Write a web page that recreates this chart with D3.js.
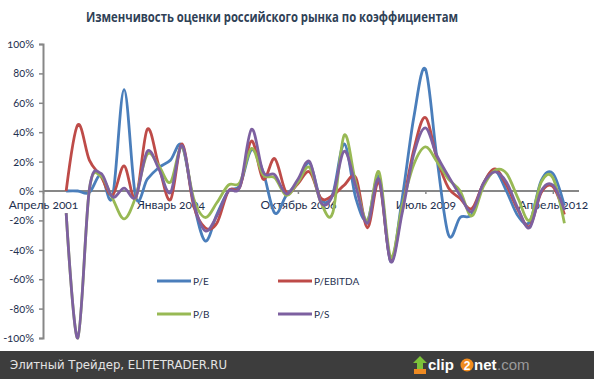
<!DOCTYPE html>
<html>
<head>
<meta charset="utf-8">
<script src="https://cdn.jsdelivr.net/npm/d3@7"></script>
<style>
  html, body { margin: 0; padding: 0; background: #fff; }
  svg { display: block; }
</style>
</head>
<body>
<div id="chart"></div>
<script>
// quarterly categories, April 2001 .. October 2012
const monthNames = ['Январь', 'Апрель', 'Июль', 'Октябрь'];
const categories = [];
for (let q = 1; q < 1 + 47; q++) {
  categories.push(monthNames[q % 4] + ' ' + (2001 + Math.floor(q / 4)));
}
const tickLabels = ['Апрель 2001', 'Январь 2004', 'Октябрь 2006', 'Июль 2009', 'Апрель 2012'];
const yTicks = [100, 80, 60, 40, 20, 0, -20, -40, -60, -80, -100];

// % change (null = no value)
const pe = [null, null,
  0, 0, -1, 11, -4, 69, -4, 8, 16, 21,
  31, -8, -34, -16, 0, 4, 28, 13, -15, -3,
  6, 19, -6, -2, 32, -5, -20, 10, -48, -5,
  50, 83, 22, -30, -18, -16, 5, 14, 0, -17,
  -21, 7, 12, -10, null];
const pebitda = [null, null,
  0, 45, 21, 10, -3, 17, -5, 42, 17, -6,
  32, -10, -25, -22, 0, 3, 34, 8, 22, -1,
  5, 13, -5, -3, 4, 9, -25, 6, -47, -12,
  28, 50, 22, 2, -5, -12, 5, 15, 4, -13,
  -24, -1, 3, -16, null];
const pb = [null, null,
  -15, -100, 1, 10, -5, -19, -4, 25, 17, 6,
  30, -5, -18, -8, 4, 6, 29, 11, 9, -3,
  6, 16, -8, -15, 38, 5, -20, 13, -45, -10,
  18, 30, 20, 8, 0, -17, 3, 14, 12, -5,
  -20, 6, 9, -22, null];
const ps = [null, null,
  -15, -100, 1, 12, -4, 2, -4, 27, 15, -1,
  31, -8, -27, -17, 0, 3, 42, 13, 11, -2,
  8, 20, -8, -3, 27, 3, -22, 8, -48, -15,
  25, 43, 24, 10, -3, -14, 5, 13, 6, -12,
  -25, 0, 4, -13, null];

const seriesNames = ['P/E', 'P/EBITDA', 'P/B', 'P/S'];
const seriesColors = ['#4a7ebb', '#be4b48', '#98b954', '#7d60a0'];
const seriesValues = [pe, pebitda, pb, ps];

const width = 594, height = 379;
const svg = d3.select('#chart').append('svg')
  .attr('width', width)
  .attr('height', height);

svg.append('rect').attr('width', width).attr('height', height).attr('fill', '#fff');

// Title
svg.append('text')
  .attr('x', 86).attr('y', 22)
  .attr('textLength', 372).attr('lengthAdjust', 'spacingAndGlyphs')
  .style('font-family', '"Open Sans", sans-serif')
  .style('font-weight', 'bold')
  .style('font-size', '13.5px')
  .attr('fill', '#2f4156')
  .text('Изменчивость оценки российского рынка по коэффициентам');

// Scales
const x = d3.scalePoint()
  .domain(d3.range(categories.length))
  .range([43, 576]);

const y = d3.scaleLinear()
  .domain([-100, 100])
  .range([338, 44]);

const axisColor = '#878787';
const labelColor = '#1f3150';

// Y axis
const yAxis = svg.append('g')
  .attr('transform', 'translate(43,0)')
  .call(d3.axisLeft(y).tickValues(yTicks).tickSize(4).tickPadding(5)
    .tickFormat(d => d + '%'));
yAxis.select('.domain').attr('stroke', axisColor).attr('stroke-width', 2);
yAxis.selectAll('.tick line').attr('stroke', axisColor).attr('stroke-width', 1.5);
yAxis.selectAll('.tick text')
  .attr('fill', labelColor)
  .style('font-family', 'Lato, sans-serif')
  .style('font-size', '11px')
  .style('font-variant-numeric', 'oldstyle-nums');

// X axis at zero
const tickIdx = tickLabels.map(t => categories.indexOf(t));
const xAxis = svg.append('g')
  .attr('transform', `translate(0,${y(0)})`)
  .call(d3.axisBottom(x).tickValues(tickIdx).tickSize(3).tickPadding(6)
    .tickSizeOuter(0)
    .tickFormat(i => categories[i]));
xAxis.select('.domain').attr('stroke', axisColor).attr('stroke-width', 2.2)
  .attr('d', `M43,0H579`);
xAxis.selectAll('.tick line').attr('stroke', axisColor).attr('stroke-width', 1.5);
xAxis.selectAll('.tick text')
  .attr('fill', labelColor)
  .style('font-family', 'Lato, sans-serif')
  .style('font-size', '12px')
  .style('font-variant-numeric', 'oldstyle-nums');

// Lines (Excel-style smoothing)
const line = d3.line()
  .defined(d => d[1] !== null)
  .x(d => x(d[0]))
  .y(d => y(d[1]))
  .curve(d3.curveCatmullRom.alpha(0));

seriesValues.forEach((vals, k) => {
  svg.append('path')
    .datum(vals.map((v, i) => [i, v]))
    .attr('fill', 'none')
    .attr('stroke', seriesColors[k])
    .attr('stroke-width', 2.8)
    .attr('stroke-linejoin', 'round')
    .attr('d', line);
});

// Legend
const legendPos = [[157, 281], [278, 281], [157, 314], [278, 314]];
seriesNames.forEach((name, k) => {
  const [lx, ly] = legendPos[k];
  svg.append('line')
    .attr('x1', lx).attr('x2', lx + 34)
    .attr('y1', ly).attr('y2', ly)
    .attr('stroke', seriesColors[k])
    .attr('stroke-width', 2.8);
  svg.append('text')
    .attr('x', lx + 36).attr('y', ly + 4)
    .attr('fill', labelColor)
    .style('font-family', 'Lato, sans-serif')
    .style('font-size', '10px')
    .text(name);
});

// Footer bar
svg.append('rect')
  .attr('x', 0).attr('y', 351)
  .attr('width', width).attr('height', height - 351)
  .attr('fill', '#3d3d3d');

svg.append('text')
  .attr('x', 10).attr('y', 369)
  .attr('textLength', 217).attr('lengthAdjust', 'spacingAndGlyphs')
  .attr('fill', '#e4e4e4')
  .style('font-family', '"DejaVu Sans", sans-serif')
  .style('font-size', '11.5px')
  .text('Элитный Трейдер, ELITETRADER.RU');

// clip2net mark
const logo = svg.append('g');
logo.append('rect').attr('x', 414).attr('y', 369).attr('width', 12).attr('height', 5).attr('fill', '#ee8a22');
logo.append('path')
  .attr('d', 'M420,356 L427,363 L423,363 L423,369 L417,369 L417,363 L413,363 Z')
  .attr('fill', '#7cc23a');
logo.append('text')
  .attr('x', 428).attr('y', 370)
  .style('font-family', '"Liberation Sans", Arial, sans-serif')
  .style('font-weight', 'bold')
  .style('font-size', '15px')
  .attr('fill', '#ffffff')
  .text('clip');
logo.append('circle').attr('cx', 467).attr('cy', 365).attr('r', 6.5).attr('fill', '#f08c1e');
logo.append('text')
  .attr('x', 467).attr('y', 369.5).attr('text-anchor', 'middle')
  .style('font-family', '"Liberation Sans", Arial, sans-serif')
  .style('font-weight', 'bold')
  .style('font-size', '12px')
  .attr('fill', '#ffffff')
  .text('2');
logo.append('text')
  .attr('x', 474).attr('y', 370)
  .style('font-family', '"Liberation Sans", Arial, sans-serif')
  .style('font-weight', 'bold')
  .style('font-size', '15px')
  .attr('fill', '#ffffff')
  .text('net');
logo.append('text')
  .attr('x', 497).attr('y', 370)
  .style('font-family', '"Liberation Sans", Arial, sans-serif')
  .style('font-size', '15px')
  .attr('fill', '#9a9a9a')
  .text('.com');
</script>
</body>
</html>
